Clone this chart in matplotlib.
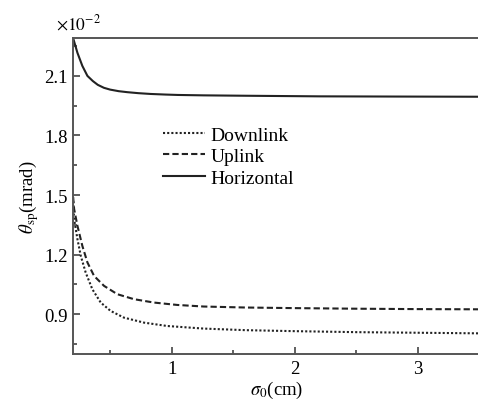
import numpy as np
import matplotlib.pyplot as plt
from matplotlib.ticker import MultipleLocator

# values (theta in units of 1e-2 mrad)
x_horiz = [0.2, 0.235, 0.275, 0.316, 0.36, 0.4, 0.45, 0.5, 0.57, 0.64, 0.73, 0.83,
           0.95, 1.05, 1.26, 1.6, 2.2, 2.8, 3.5]
y_horiz = [2.29, 2.216, 2.15, 2.10, 2.074, 2.055, 2.04, 2.031, 2.023, 2.018, 2.013, 2.009,
           2.006, 2.004, 2.002, 2.0, 1.997, 1.996, 1.995]

x_up = [0.2, 0.208, 0.235, 0.275, 0.316, 0.37, 0.451, 0.559, 0.694, 0.856, 1.045, 1.26,
        1.6, 2.0, 2.5, 3.0, 3.5]
y_up = [1.49, 1.43, 1.345, 1.244, 1.161, 1.093, 1.043, 1.001, 0.976, 0.959, 0.947, 0.939,
        0.934, 0.931, 0.928, 0.926, 0.925]

x_down = [0.2, 0.208, 0.235, 0.262, 0.302, 0.356, 0.424, 0.504, 0.613, 0.775, 0.964, 1.26,
          1.6, 2.0, 2.5, 3.0, 3.5]
y_down = [1.47, 1.379, 1.278, 1.194, 1.110, 1.026, 0.959, 0.917, 0.883, 0.858, 0.841, 0.828,
          0.82, 0.815, 0.81, 0.807, 0.804]

plt.rcParams['font.family'] = ['Liberation Serif', 'DejaVu Serif']
plt.rcParams['mathtext.fontset'] = 'stix'

fig = plt.figure(figsize=(4.78, 4.06), dpi=100)
ax = fig.add_axes([0.153, 0.1256, 0.85, 0.778])

ax.plot(x_down, y_down, color='#222222', lw=1.5, linestyle=(0, (1, 1)), label='Downlink')
ax.plot(x_up, y_up, color='#222222', lw=1.5, linestyle=(0, (3, 1.5)), label='Uplink')
ax.plot(x_horiz, y_horiz, color='#222222', lw=1.5, linestyle='-', label='Horizontal')

ax.set_xlim(0.2, 3.5)
ax.set_ylim(0.7, 2.29)
ax.xaxis.set_major_locator(MultipleLocator(1))
ax.xaxis.set_minor_locator(MultipleLocator(0.5))
ax.yaxis.set_minor_locator(MultipleLocator(0.15))
ax.set_yticks([0.9, 1.2, 1.5, 1.8, 2.1])
ax.set_yticklabels(['0.9', '1.2', '1.5', '1.8', '2.1'])

ax.tick_params(which='both', direction='in', top=False, right=False,
               labelsize=13.5, color='#444444', pad=4)
ax.tick_params(which='major', length=5, width=1.2)
ax.tick_params(which='minor', length=3, width=1.2)

ax.spines['right'].set_visible(False)
for s in ['left', 'bottom', 'top']:
    ax.spines[s].set_color('#555555')
    ax.spines[s].set_linewidth(1.4)

ax.set_xlabel(r'$\sigma_0$(cm)', fontsize=13.5, labelpad=2)
ax.set_ylabel(r'$\theta_{\rm sp}$(mrad)', fontsize=13.5, labelpad=2)
fig.text(0.118, 0.925, r'$\times 10^{-2}$', fontsize=12.5)

ax.legend(loc='upper left', bbox_to_anchor=(0.222, 0.722), frameon=False,
          fontsize=14, handlelength=2.15, handletextpad=0.26, labelspacing=0.2,
          borderpad=0, borderaxespad=0)

plt.savefig('out.png', dpi=100)
